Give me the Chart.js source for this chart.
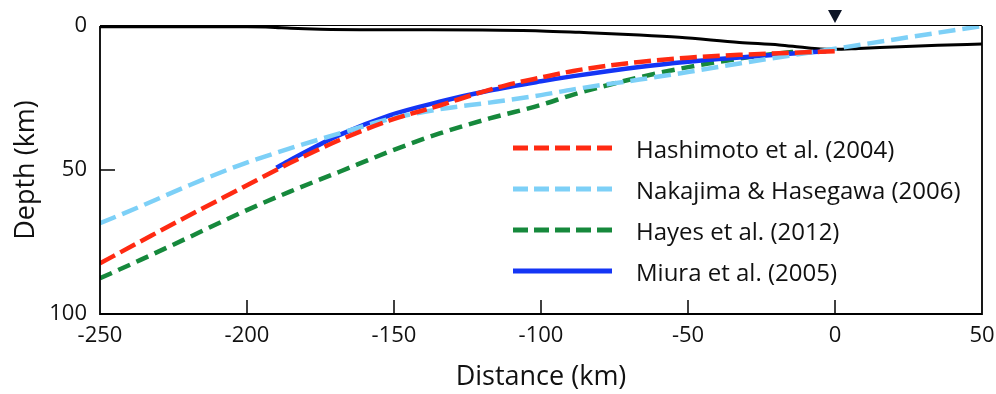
<!DOCTYPE html>
<html>
<head>
<meta charset="utf-8">
<script src="https://cdn.jsdelivr.net/npm/chart.js@4/dist/chart.umd.min.js"></script>
<style>
  html, body { margin: 0; padding: 0; background: #fff; }
  #slabChart { display: block; }
</style>
</head>
<body>
<canvas id="slabChart" width="996" height="394"></canvas>
<script>
// ── Data (distance in km, depth in km) ──
const xTickValues = [-250, -200, -150, -100, -50, 0, 50];
const yTickValues = [0, 50, 100];

const seriesLabels = [
  'Hashimoto et al. (2004)',
  'Nakajima & Hasegawa (2006)',
  'Hayes et al. (2012)',
  'Miura et al. (2005)'
];

const hashimotoDist  = [-250, -236.4, -219.4, -202.4, -185.4, -168.5, -151.5, -134.5, -121, -112, -100, -89, -78, -66.5, -50, -32.5, -15, 0];
const hashimotoDepth = [82.4, 74.9, 65.6, 56.6, 47.6, 39.6, 32.8, 27.6, 23.2, 20.6, 17.9, 15.6, 13.9, 12.5, 11.0, 10.0, 9.3, 8.8];

const nakajimaDist  = [-250, -236.4, -219.4, -202.4, -185.4, -168.5, -151.5, -134.5, -117.5, -100, -89, -66.5, -49.5, -32.5, -15.6, 0, 21.8, 50];
const nakajimaDepth = [68.5, 62.7, 55.2, 48.3, 42.5, 37.3, 32.3, 28.9, 26.6, 24.0, 22.0, 18.6, 15.9, 13.0, 10.3, 7.9, 4.4, 0];

const hayesDist  = [-250, -236.4, -219.4, -202.4, -185.4, -168.5, -151.5, -134.5, -117.5, -100, -89, -66.5, -49.5, -32.5, -20, -12];
const hayesDepth = [87.6, 81.3, 73.2, 65.0, 57.5, 50.6, 43.6, 37.3, 32.1, 27.4, 23.8, 17.8, 14.2, 11.3, 9.6, 8.8];

const miuraDist  = [-190, -185.4, -168.5, -151.5, -134.5, -117.5, -100, -89, -66.5, -50, -32.5, -15.6, -3];
const miuraDepth = [49.2, 46.6, 37.8, 31.0, 26.3, 22.4, 19.2, 17.4, 14.2, 12.4, 10.9, 9.6, 8.8];

const topoDist  = [-250, -200, -192, -185, -175, -150, -120, -100, -87, -66.5, -53, -32.5, -19, -12, -5, 0, 8, 22, 35, 50];
const topoDepth = [0.3, 0.3, 0.4, 0.8, 1.1, 1.3, 1.4, 1.7, 2.2, 3.1, 3.9, 5.7, 6.6, 7.3, 8.0, 8.1, 7.8, 7.2, 6.7, 6.25];

const trenchDist = 0; // trench marker (triangle)

const FONT = "'Open Sans', 'DejaVu Sans', sans-serif";

function toPoints(xs, ys) {
  return xs.map((x, i) => ({ x, y: ys[i] }));
}

function lineSet(label, xs, ys, color, dash, order) {
  return {
    label,
    data: toPoints(xs, ys),
    borderColor: color,
    borderWidth: 4.5,
    borderDash: dash,
    borderCapStyle: 'butt',
    cubicInterpolationMode: 'monotone',
    pointRadius: 0,
    fill: false,
    order,
    showInKey: true
  };
}

/* ════════════════════════════
   FRAME, INWARD TICKS, TRENCH MARK, KEY
════════════════════════════ */
const decorPlugin = {
  id: 'decor',
  afterDatasetsDraw(chart) {
    const { ctx, chartArea: a, scales: { x, y } } = chart;
    ctx.save();

    // frame
    ctx.strokeStyle = '#000';
    ctx.lineWidth = 1;
    ctx.beginPath();
    ctx.moveTo(a.left, a.top - 0.5);
    ctx.lineTo(a.right, a.top - 0.5);
    ctx.stroke();
    ctx.lineWidth = 1.8;
    ctx.beginPath();
    ctx.moveTo(a.left, a.top);
    ctx.lineTo(a.left, a.bottom);
    ctx.lineTo(a.right, a.bottom);
    ctx.lineTo(a.right, a.top);
    ctx.stroke();

    // ticks pointing into the plot
    ctx.lineWidth = 1.5;
    x.ticks.forEach(t => {
      if (t.value <= x.min || t.value >= x.max) return;
      const px = x.getPixelForValue(t.value);
      ctx.beginPath();
      ctx.moveTo(px, a.bottom);
      ctx.lineTo(px, a.bottom - 14);
      ctx.stroke();
    });
    y.ticks.forEach(t => {
      if (t.value <= y.min || t.value >= y.max) return;
      const py = y.getPixelForValue(t.value);
      ctx.beginPath();
      ctx.moveTo(a.left, py);
      ctx.lineTo(a.left + 15, py);
      ctx.stroke();
    });

    // trench triangle above the frame
    const tx = x.getPixelForValue(trenchDist);
    ctx.fillStyle = '#0d1526';
    ctx.beginPath();
    ctx.moveTo(tx - 7, a.top - 16);
    ctx.lineTo(tx + 7, a.top - 16);
    ctx.lineTo(tx, a.top - 3);
    ctx.closePath();
    ctx.fill();

    // key
    const keySets = chart.data.datasets.filter(d => d.showInKey);
    ctx.font = '24px ' + FONT;
    ctx.textBaseline = 'alphabetic';
    ctx.textAlign = 'left';
    keySets.forEach((d, i) => {
      const rowY = 148 + i * 41;
      ctx.strokeStyle = d.borderColor;
      ctx.lineWidth = 5;
      ctx.lineCap = 'butt';
      ctx.setLineDash(d.borderDash.length ? [15, 6] : []);
      ctx.beginPath();
      ctx.moveTo(513, rowY);
      ctx.lineTo(612, rowY);
      ctx.stroke();
      ctx.setLineDash([]);
      ctx.fillStyle = '#111';
      ctx.fillText(d.label, 636, rowY + 10);
    });

    ctx.restore();
  }
};

/* ════════════════════════════
   CHART
════════════════════════════ */
function initSlabChart() {
  const ctx = document.getElementById('slabChart');

  new Chart(ctx, {
    type: 'line',
    data: {
      datasets: [
        lineSet(seriesLabels[0], hashimotoDist, hashimotoDepth, '#ff2a12', [17, 6], 0),
        lineSet(seriesLabels[1], nakajimaDist, nakajimaDepth, '#7dd0f7', [17, 7], 1),
        lineSet(seriesLabels[2], hayesDist, hayesDepth, '#16893c', [13, 7], 3),
        lineSet(seriesLabels[3], miuraDist, miuraDepth, '#1435f5', [], 2),
        {
          label: 'Topography',
          data: toPoints(topoDist, topoDepth),
          borderColor: '#000',
          borderWidth: 3,
          cubicInterpolationMode: 'monotone',
          pointRadius: 0,
          fill: false,
          order: 4
        }
      ]
    },
    options: {
      responsive: false,
      animation: false,
      devicePixelRatio: 1,
      layout: { padding: { top: 26, right: 14, left: 0, bottom: 0 } },
      plugins: {
        legend: { display: false },
        tooltip: { enabled: false }
      },
      scales: {
        x: {
          type: 'linear',
          min: xTickValues[0],
          max: xTickValues[xTickValues.length - 1],
          afterBuildTicks: s => { s.ticks = xTickValues.map(v => ({ value: v })); },
          afterFit: s => {
            s.height = 80;
            s.paddingLeft = 0;
            s.paddingRight = 0;
          },
          grid: { display: false, drawTicks: false },
          border: { display: false },
          ticks: {
            padding: 9,
            maxRotation: 0,
            autoSkip: false,
            color: '#111',
            font: { family: FONT, size: 22 },
            callback: v => String(v)
          },
          title: {
            display: true,
            text: 'Distance (km)',
            color: '#111',
            font: { family: FONT, size: 27 },
            padding: { top: 0, bottom: 0 }
          }
        },
        y: {
          type: 'linear',
          reverse: true,
          min: yTickValues[0],
          max: yTickValues[yTickValues.length - 1],
          afterBuildTicks: s => { s.ticks = yTickValues.map(v => ({ value: v })); },
          afterFit: s => {
            s.width = 100;
            s.paddingTop = 0;
            s.paddingBottom = 0;
          },
          grid: { display: false, drawTicks: false },
          border: { display: false },
          ticks: {
            padding: 13,
            color: '#111',
            font: { family: FONT, size: 22 },
            callback: v => String(v)
          },
          title: {
            display: true,
            text: 'Depth (km)',
            color: '#111',
            font: { family: FONT, size: 27 },
            padding: { top: 10, bottom: 0 }
          }
        }
      }
    },
    plugins: [decorPlugin]
  });
}

initSlabChart();
</script>
</body>
</html>
